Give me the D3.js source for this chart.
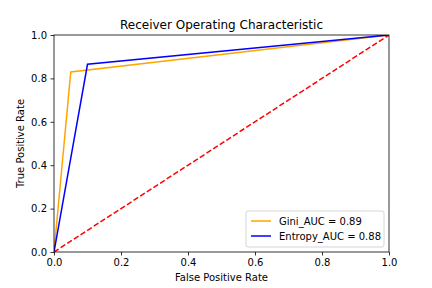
<!DOCTYPE html>
<html>
<head>
<meta charset="utf-8">
<script src="https://cdn.jsdelivr.net/npm/d3@7"></script>
<style>
  body { margin: 0; background: #fff; }
  svg { font-family: "DejaVu Sans", sans-serif; }
</style>
</head>
<body>
<svg width="432" height="288"></svg>
<script>
// ROC points
const giniFpr = [0, 0.05, 1];
const giniTpr = [0, 0.83, 1];
const entropyFpr = [0, 0.1, 1];
const entropyTpr = [0, 0.865, 1];
const diagonal = [0, 1];
const tickValues = [0, 0.2, 0.4, 0.6, 0.8, 1.0];
const seriesLabels = ['Gini_AUC = 0.89', 'Entropy_AUC = 0.88'];
const seriesColors = ['orange', 'blue'];

const margin = { top: 35, right: 43, bottom: 36, left: 54 };
const width = 432 - margin.left - margin.right;
const height = 288 - margin.top - margin.bottom;

const svg = d3.select('svg');
const g = svg.append('g')
  .attr('transform', `translate(${margin.left},${margin.top})`);

const x = d3.scaleLinear().domain([0, 1]).range([0, width]);
const y = d3.scaleLinear().domain([0, 1]).range([height, 0]);

const line = d3.line()
  .x(d => x(d[0]))
  .y(d => y(d[1]));

// clip to the axes area
svg.append('defs').append('clipPath').attr('id', 'clip')
  .append('rect').attr('width', width).attr('height', height);

const plot = g.append('g').attr('clip-path', 'url(#clip)');

plot.append('path')
  .attr('d', line(giniFpr.map((v, i) => [v, giniTpr[i]])))
  .attr('fill', 'none')
  .attr('stroke', seriesColors[0])
  .attr('stroke-width', 1.5);

plot.append('path')
  .attr('d', line(entropyFpr.map((v, i) => [v, entropyTpr[i]])))
  .attr('fill', 'none')
  .attr('stroke', seriesColors[1])
  .attr('stroke-width', 1.5);

plot.append('path')
  .attr('d', line(diagonal.map(v => [v, v])))
  .attr('fill', 'none')
  .attr('stroke', 'red')
  .attr('stroke-width', 1.5)
  .attr('stroke-dasharray', '5.5,2.4');

// axes
const fmt = d3.format('.1f');
const xAxis = g.append('g')
  .attr('transform', `translate(0,${height})`)
  .call(d3.axisBottom(x).tickValues(tickValues).tickFormat(fmt).tickSize(3.5).tickPadding(3.5));
const yAxis = g.append('g')
  .call(d3.axisLeft(y).tickValues(tickValues).tickFormat(fmt).tickSize(3.5).tickPadding(3.5));

[xAxis, yAxis].forEach(a => {
  a.select('.domain').remove();
  a.selectAll('text').attr('font-size', 10).attr('fill', '#000')
    .attr('font-family', '"DejaVu Sans", sans-serif');
  a.selectAll('line').attr('stroke', '#000').attr('stroke-width', 0.8);
});

// frame
g.append('rect')
  .attr('width', width).attr('height', height)
  .attr('fill', 'none').attr('stroke', '#000').attr('stroke-width', 0.8);

// title and labels
g.append('text')
  .attr('x', width / 2).attr('y', -6)
  .attr('text-anchor', 'middle').attr('font-size', 12)
  .text('Receiver Operating Characteristic');

g.append('text')
  .attr('x', width / 2).attr('y', height + 29)
  .attr('text-anchor', 'middle').attr('font-size', 10)
  .text('False Positive Rate');

g.append('text')
  .attr('transform', `translate(-30,${height / 2}) rotate(-90)`)
  .attr('text-anchor', 'middle').attr('font-size', 10)
  .text('True Positive Rate');

// legend
const legW = 138, legH = 36;
const leg = g.append('g')
  .attr('transform', `translate(${width - legW - 5},${height - legH - 5})`);
leg.append('rect')
  .attr('width', legW).attr('height', legH).attr('rx', 2)
  .attr('fill', '#fff').attr('fill-opacity', 0.8)
  .attr('stroke', '#ccc').attr('stroke-width', 0.8);
seriesLabels.forEach((lab, i) => {
  const yy = 10 + i * 15;
  leg.append('line')
    .attr('x1', 5).attr('x2', 25).attr('y1', yy).attr('y2', yy)
    .attr('stroke', seriesColors[i]).attr('stroke-width', 1.5);
  leg.append('text')
    .attr('x', 33).attr('y', yy + 3.5)
    .attr('font-size', 10)
    .text(lab);
});
</script>
</body>
</html>
